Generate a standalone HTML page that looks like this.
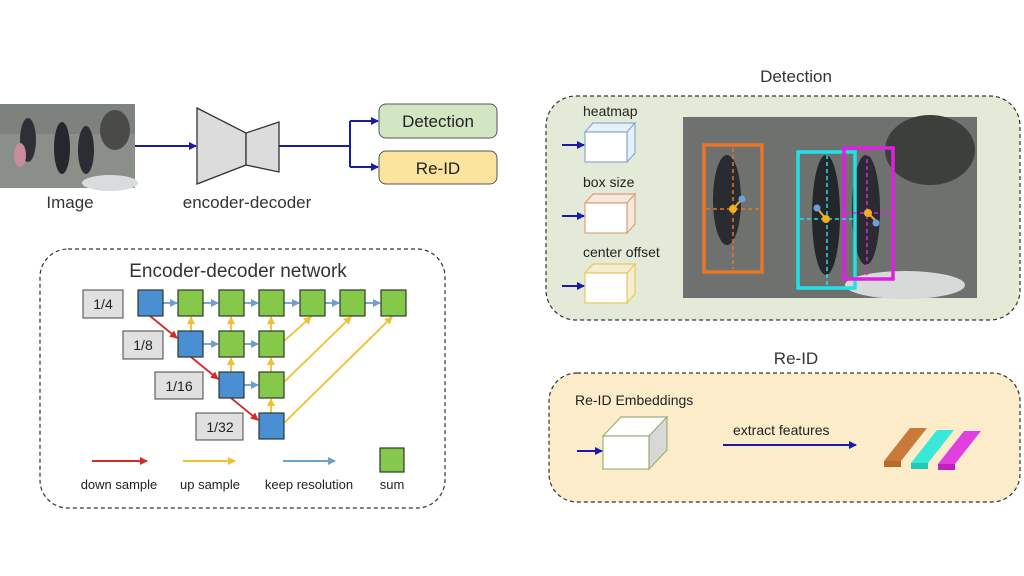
<!DOCTYPE html>
<html><head><meta charset="utf-8"><style>
body{margin:0;background:#fff}
svg{display:block;font-family:"Liberation Sans",sans-serif}
</style></head><body>
<svg width="1024" height="576" viewBox="0 0 1024 576" xmlns="http://www.w3.org/2000/svg">
<defs>
<marker id="ab" markerWidth="8" markerHeight="8" refX="7" refY="4" orient="auto" markerUnits="userSpaceOnUse"><path d="M0,0 L8,4 L0,8 z" fill="#1a1aa8"/></marker>
<marker id="ar" markerWidth="8" markerHeight="8" refX="7" refY="4" orient="auto" markerUnits="userSpaceOnUse"><path d="M0,0 L8,4 L0,8 z" fill="#d42a2a"/></marker>
<marker id="ay" markerWidth="8" markerHeight="8" refX="7" refY="4" orient="auto" markerUnits="userSpaceOnUse"><path d="M0,0 L8,4 L0,8 z" fill="#f0c030"/></marker>
<marker id="ak" markerWidth="8" markerHeight="8" refX="7" refY="4" orient="auto" markerUnits="userSpaceOnUse"><path d="M0,0 L8,4 L0,8 z" fill="#6fa0cc"/></marker>
</defs>
<!-- Top pipeline -->
<rect x="0" y="104" width="135" height="84" fill="#8a8f8a"/>
<rect x="0" y="104" width="135" height="30" fill="#7d827e"/>
<ellipse cx="28" cy="140" rx="8" ry="22" fill="#2e3036"/><ellipse cx="20" cy="155" rx="6" ry="12" fill="#c98a9a"/>
<ellipse cx="62" cy="148" rx="8" ry="26" fill="#25272c"/><ellipse cx="86" cy="150" rx="8" ry="24" fill="#2b2d32"/>
<ellipse cx="115" cy="130" rx="15" ry="20" fill="#4a4a48"/><ellipse cx="110" cy="183" rx="28" ry="8" fill="#d9dcdc"/>
<line x1="135" y1="146" x2="196" y2="146" stroke="#1a1aa8" stroke-width="2" marker-end="url(#ab)"/>
<path d="M197,108 L246,133 L246,165 L197,184 Z" fill="#dcdcdc" stroke="#333" stroke-width="1.3"/>
<path d="M246,133 L279,122 L279,172 L246,165 Z" fill="#dcdcdc" stroke="#333" stroke-width="1.3"/>
<path d="M279,146 L350,146 M350,121 L350,167" stroke="#1a1aa8" stroke-width="2" fill="none"/>
<line x1="350" y1="121" x2="378" y2="121" stroke="#1a1aa8" stroke-width="2" marker-end="url(#ab)"/>
<line x1="350" y1="167" x2="378" y2="167" stroke="#1a1aa8" stroke-width="2" marker-end="url(#ab)"/>
<rect x="379" y="104" width="118" height="34" rx="7" fill="#d3e6c3" stroke="#555" stroke-width="1"/>
<text x="438" y="127" font-size="17" text-anchor="middle" fill="#222">Detection</text>
<rect x="379" y="151" width="118" height="33" rx="7" fill="#fbe49e" stroke="#555" stroke-width="1"/>
<text x="438" y="174" font-size="17" text-anchor="middle" fill="#222">Re-ID</text>
<text x="70" y="208" font-size="17" text-anchor="middle" fill="#333">Image</text>
<text x="247" y="208" font-size="17" text-anchor="middle" fill="#333">encoder-decoder</text>
<!-- Encoder-decoder network panel -->
<rect x="40" y="249" width="405" height="259" rx="28" fill="#fff" stroke="#333" stroke-width="1.2" stroke-dasharray="4,3"/>
<text x="238" y="277" font-size="19" text-anchor="middle" fill="#333">Encoder-decoder network</text>
<g font-size="14" text-anchor="middle" fill="#222">
<rect x="83" y="290" width="40" height="28" fill="#e0e0e0" stroke="#444"/><text x="103" y="309">1/4</text>
<rect x="123" y="331" width="40" height="28" fill="#e0e0e0" stroke="#444"/><text x="143" y="350">1/8</text>
<rect x="155" y="372" width="48" height="27" fill="#e0e0e0" stroke="#444"/><text x="179" y="391">1/16</text>
<rect x="196" y="413" width="47" height="27" fill="#e0e0e0" stroke="#444"/><text x="220" y="432">1/32</text>
</g>
<!-- arrows -->
<g stroke-width="1.8" fill="none">
<g stroke="#6fa0cc" marker-end="url(#ak)">
<line x1="163" y1="303" x2="177" y2="303"/><line x1="203" y1="303" x2="218" y2="303"/><line x1="244" y1="303" x2="258" y2="303"/><line x1="284" y1="303" x2="299" y2="303"/><line x1="325" y1="303" x2="339" y2="303"/><line x1="365" y1="303" x2="380" y2="303"/>
<line x1="203" y1="344" x2="218" y2="344"/><line x1="244" y1="344" x2="258" y2="344"/>
<line x1="244" y1="385" x2="258" y2="385"/>
</g>
<g stroke="#d42a2a" marker-end="url(#ar)">
<line x1="150" y1="316" x2="177" y2="338"/><line x1="191" y1="357" x2="218" y2="379"/><line x1="231" y1="398" x2="258" y2="420"/>
</g>
<g stroke="#f0c030" marker-end="url(#ay)">
<line x1="191" y1="331" x2="191" y2="317"/><line x1="231" y1="331" x2="231" y2="317"/><line x1="271" y1="331" x2="271" y2="317"/>
<line x1="231" y1="372" x2="231" y2="358"/><line x1="271" y1="372" x2="271" y2="358"/>
<line x1="271" y1="413" x2="271" y2="399"/>
<line x1="284" y1="341" x2="311" y2="317"/><line x1="284" y1="382" x2="351" y2="317"/><line x1="284" y1="423" x2="392" y2="317"/>
</g>
</g>
<g stroke="#2b3a2b" stroke-width="1.2">
<rect x="138" y="290" width="25" height="26" fill="#4a8fd4"/>
<rect x="178" y="290" width="25" height="26" fill="#86c84a"/><rect x="219" y="290" width="25" height="26" fill="#86c84a"/><rect x="259" y="290" width="25" height="26" fill="#86c84a"/><rect x="300" y="290" width="25" height="26" fill="#86c84a"/><rect x="340" y="290" width="25" height="26" fill="#86c84a"/><rect x="381" y="290" width="25" height="26" fill="#86c84a"/>
<rect x="178" y="331" width="25" height="26" fill="#4a8fd4"/><rect x="219" y="331" width="25" height="26" fill="#86c84a"/><rect x="259" y="331" width="25" height="26" fill="#86c84a"/>
<rect x="219" y="372" width="25" height="26" fill="#4a8fd4"/><rect x="259" y="372" width="25" height="26" fill="#86c84a"/>
<rect x="259" y="413" width="25" height="26" fill="#4a8fd4"/>
<rect x="380" y="448" width="24" height="24" fill="#86c84a"/>
</g>
<line x1="92" y1="461" x2="147" y2="461" stroke="#d42a2a" stroke-width="2" marker-end="url(#ar)"/>
<line x1="183" y1="461" x2="235" y2="461" stroke="#f0c030" stroke-width="2" marker-end="url(#ay)"/>
<line x1="283" y1="461" x2="335" y2="461" stroke="#6fa0cc" stroke-width="2" marker-end="url(#ak)"/>
<g font-size="13" text-anchor="middle" fill="#222">
<text x="119" y="489">down sample</text><text x="210" y="489">up sample</text><text x="309" y="489">keep resolution</text><text x="392" y="489">sum</text>
</g>
<!-- Detection panel -->
<text x="796" y="82" font-size="17" text-anchor="middle" fill="#333">Detection</text>
<rect x="546" y="96" width="474" height="224" rx="30" fill="#e3ebd8" stroke="#333" stroke-width="1.2" stroke-dasharray="4,3"/>
<g font-size="14" fill="#222"><text x="583" y="116">heatmap</text><text x="583" y="187">box size</text><text x="583" y="257">center offset</text></g>
<g stroke-width="1.2">
<path d="M585,132 L593,123 L635,123 L627,132 Z M627,132 L635,123 L635,153 L627,162 Z" fill="#e8f0f8" stroke="#8aaad0"/><rect x="585" y="132" width="42" height="30" fill="#fff" stroke="#8aaad0"/>
<path d="M585,203 L593,194 L635,194 L627,203 Z M627,203 L635,194 L635,224 L627,233 Z" fill="#f6e8dc" stroke="#d9a07a"/><rect x="585" y="203" width="42" height="30" fill="#fff" stroke="#d9a07a"/>
<path d="M585,273 L593,264 L635,264 L627,273 Z M627,273 L635,264 L635,294 L627,303 Z" fill="#f6ecd0" stroke="#e8c860"/><rect x="585" y="273" width="42" height="30" fill="#fff" stroke="#e8c860"/>
</g>
<line x1="562" y1="145" x2="584" y2="145" stroke="#1a1aa8" stroke-width="2" marker-end="url(#ab)"/>
<line x1="562" y1="216" x2="584" y2="216" stroke="#1a1aa8" stroke-width="2" marker-end="url(#ab)"/>
<line x1="562" y1="286" x2="584" y2="286" stroke="#1a1aa8" stroke-width="2" marker-end="url(#ab)"/>
<rect x="683" y="117" width="294" height="181" fill="#6e716e"/>
<ellipse cx="930" cy="150" rx="45" ry="35" fill="#3d3f3d"/><ellipse cx="905" cy="285" rx="60" ry="14" fill="#d8dada"/>
<ellipse cx="727" cy="200" rx="14" ry="45" fill="#2a2b30"/><ellipse cx="826" cy="215" rx="14" ry="60" fill="#25262b"/><ellipse cx="866" cy="210" rx="14" ry="55" fill="#2a2b30"/>
<g fill="none" stroke-width="3.5">
<rect x="704" y="145" width="58" height="127" stroke="#e8752a"/>
<rect x="798" y="152" width="57" height="136" stroke="#22e0e8"/>
<rect x="844" y="148" width="49" height="131" stroke="#e020e0"/>
</g>
<g fill="none" stroke-width="1.5" stroke-dasharray="4,3">
<path d="M733,148 V269 M706,209 H760" stroke="#e8752a"/>
<path d="M827,155 V285 M800,219 H853" stroke="#22e0e8"/>
<path d="M867,152 V277 M846,213 H891" stroke="#e020e0"/>
</g>
<path d="M733,209 L742,199 M826,219 L817,208 M868,213 L876,221" stroke="#f0b020" stroke-width="2"/>
<g><circle cx="742" cy="199" r="3.5" fill="#6fa0dd"/><circle cx="817" cy="208" r="3.5" fill="#6fa0dd"/><circle cx="876" cy="223" r="3.5" fill="#6fa0dd"/>
<circle cx="733" cy="209" r="4" fill="#f0b020"/><circle cx="826" cy="219" r="4" fill="#f0b020"/><circle cx="868" cy="213" r="4" fill="#f0b020"/></g>
<!-- Re-ID panel -->
<text x="796" y="364" font-size="17" text-anchor="middle" fill="#333">Re-ID</text>
<rect x="549" y="373" width="471" height="129" rx="28" fill="#fcecca" stroke="#333" stroke-width="1.2" stroke-dasharray="4,3"/>
<text x="575" y="405" font-size="14" fill="#222">Re-ID Embeddings</text>
<path d="M603,436 L621,417 L667,417 L649,436 Z" fill="#fff" stroke="#9ab07a" stroke-width="1.2"/>
<path d="M649,436 L667,417 L667,450 L649,469 Z" fill="#d8d8d8" stroke="#9ab07a" stroke-width="1.2"/>
<rect x="603" y="436" width="46" height="33" fill="#fff" stroke="#9ab07a" stroke-width="1.2"/>
<line x1="577" y1="451" x2="602" y2="451" stroke="#1a1aa8" stroke-width="2" marker-end="url(#ab)"/>
<text x="733" y="435" font-size="14" fill="#222">extract features</text>
<line x1="723" y1="445" x2="856" y2="445" stroke="#1a1aa8" stroke-width="2" marker-end="url(#ab)"/>
<g>
<path d="M884,461 L910,428 L927,428 L901,461 Z" fill="#c87a3a"/><path d="M884,461 L901,461 L901,467 L884,467 Z" fill="#b86a2a"/>
<path d="M911,463 L937,430 L954,430 L928,463 Z" fill="#38e8d8"/><path d="M911,463 L928,463 L928,469 L911,469 Z" fill="#20c8b8"/>
<path d="M938,464 L964,431 L981,431 L955,464 Z" fill="#e040e0"/><path d="M938,464 L955,464 L955,470 L938,470 Z" fill="#c020c0"/>
</g>
</svg>
</body></html>
